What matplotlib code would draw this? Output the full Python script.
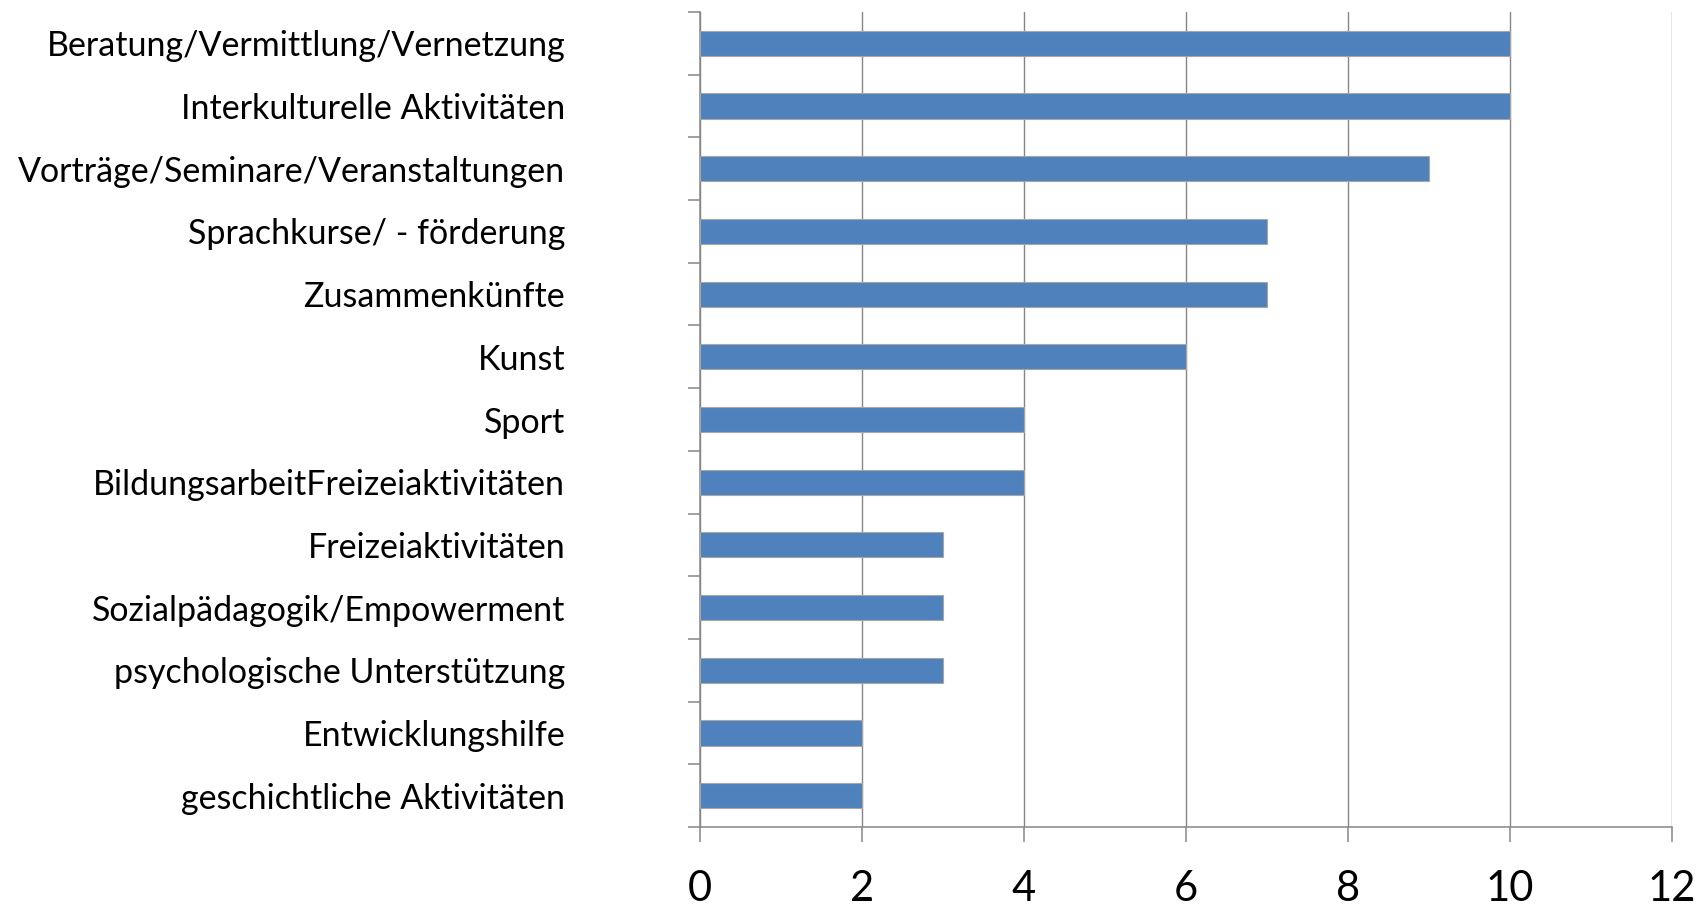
import numpy as np
from matplotlib import pyplot as plt

# Data
categories = ['Beratung/Vermittlung/Vernetzung', 'Interkulturelle Aktivitäten',
              'Vorträge/Seminare/Veranstaltungen', 'Sprachkurse/ - förderung',
              'Zusammenkünfte', 'Kunst', 'Sport', 'BildungsarbeitFreizeiaktivitäten',
              'Freizeiaktivitäten', 'Sozialpädagogik/Empowerment',
              'psychologische Unterstützung', 'Entwicklungshilfe',
              'geschichtliche Aktivitäten']
values = [10, 10, 9, 7, 7, 6, 4, 4, 3, 3, 3, 2, 2]
x_ticks = [0, 2, 4, 6, 8, 10, 12]

plt.rcParams['font.family'] = ['Lato', 'DejaVu Sans']
axis_gray = '#868686'
bar_blue = '#4f81bd'

dpi = 100
fig = plt.figure(figsize=(1706 / dpi, 909 / dpi), dpi=dpi)
ax = fig.add_axes([0.4103, 0.0902, 0.5698, 0.8966])

n = len(categories)
y = np.arange(n)[::-1] + 0.5
ax.barh(y, values, height=0.4, color=bar_blue, edgecolor='#a6a6a6', linewidth=0.8, zorder=3)

ax.set_xlim(0, 12)
ax.set_ylim(0, n)
ax.set_xticks(x_ticks)
ax.set_xticklabels([str(t) for t in x_ticks], fontsize=30)

# category ticks sit between bars, labels at bar centres
ax.set_yticks(np.arange(n + 1))
ax.set_yticklabels([])
ax.set_yticks(y, minor=True)
ax.set_yticklabels(categories, minor=True, fontsize=24.5)
ax.tick_params(axis='y', which='minor', length=0, pad=97)
ax.tick_params(axis='y', which='major', length=8.6, width=1.1, color=axis_gray, direction='out')
ax.tick_params(axis='x', length=10.8, width=1.1, color=axis_gray, direction='out', pad=20)

ax.grid(axis='x', color=axis_gray, linewidth=1.0, zorder=0)
for s in ['top', 'right']:
    ax.spines[s].set_visible(False)
for s in ['left', 'bottom']:
    ax.spines[s].set_color(axis_gray)
    ax.spines[s].set_linewidth(1.1)

fig.savefig('out.png', dpi=dpi)
